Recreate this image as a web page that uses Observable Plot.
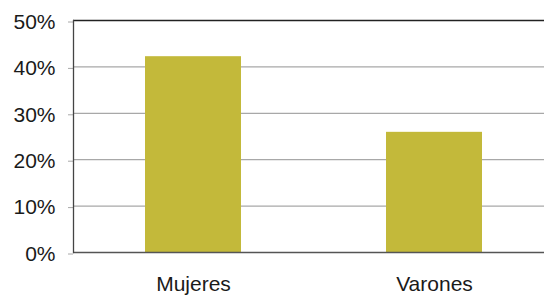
<!DOCTYPE html>
<html>
<head>
<meta charset="utf-8">
<script src="https://cdn.jsdelivr.net/npm/d3@7"></script>
<script src="https://cdn.jsdelivr.net/npm/@observablehq/plot@0.6"></script>
<style>
  html, body { margin: 0; padding: 0; background: #fff; }
  #chart svg { display: block; }
</style>
</head>
<body>
<div id="chart"></div>
<script>
const categories = ["Mujeres", "Varones"];
const values = [42.2, 25.9];
const yTicks = [0, 10, 20, 30, 40, 50];

const data = categories.map((c, i) => ({ category: c, value: values[i] }));

const chart = Plot.plot({
  width: 544,
  height: 295,
  marginLeft: 73,
  marginRight: 0,
  marginTop: 20,
  marginBottom: 43,
  style: { fontFamily: "'Liberation Sans', Arial, sans-serif", fontSize: "21px", color: "#1a1a1a", background: "#fff" },
  x: { domain: categories, range: [73, 555], paddingInner: 0.6, paddingOuter: 0.3, label: null },
  y: { domain: [0, 50], label: null },
  marks: [
    Plot.ruleY(yTicks.filter(d => d > 0 && d < 50), { stroke: "#a8a8a8", strokeWidth: 1.2 }),
    Plot.barY(data, { x: "category", y: "value", fill: "#c3b93a" }),
    Plot.axisY({ ticks: yTicks, tickFormat: d => d + "%", tickSize: 5, tickPadding: 13, stroke: "#a8a8a8", fill: "#1a1a1a", label: null, fontSize: 21, dy: 1.5 }),
    Plot.axisX({ tickSize: 0, tickPadding: 24, fill: "#1a1a1a", label: null, fontSize: 21 }),
    Plot.ruleY([50], { stroke: "#222", strokeWidth: 1.3 }),
    Plot.ruleY([0], { stroke: "#555", strokeWidth: 1.3 }),
    Plot.frame({ anchor: "left", stroke: "#444", strokeWidth: 1.3 })
  ]
});
document.getElementById("chart").appendChild(chart);
</script>
</body>
</html>
